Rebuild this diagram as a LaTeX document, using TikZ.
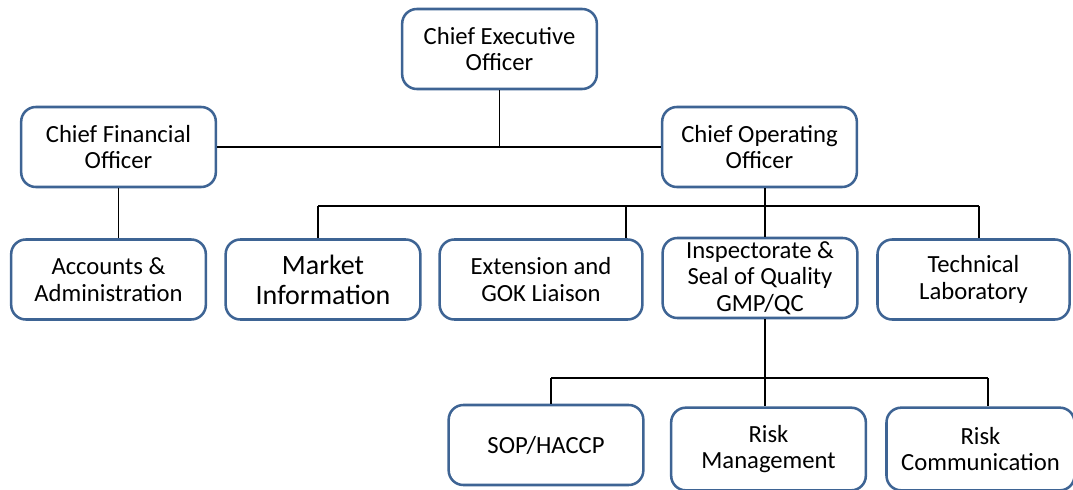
\documentclass[tikz,border=0pt]{standalone}
\usepackage{fontspec}
\setmainfont{Carlito}
\definecolor{boxblue}{RGB}{62,100,148}
\tikzset{
  box/.style={draw=boxblue, line width=1.9pt, rounded corners=11pt, fill=white,
    align=center, minimum width=146pt, minimum height=60pt, inner sep=2pt,
    font=\fontsize{18.5}{20}\selectfont},
  link/.style={black, line width=1pt}
}
\begin{document}
\begin{tikzpicture}[x=0.75pt,y=-0.75pt]
      \useasboundingbox (0,0) rectangle (1073,489);
      % top level
      \node[box] (ceo) at (499.5,49) {Chief Executive\\Officer};
      \node[box] (cfo) at (118.5,147) {Chief Financial\\Officer};
      \node[box] (coo) at (759.5,147) {Chief Operating\\Officer};
      % second row
      \node[box] (acc) at (108.5,279.5) {Accounts \&\\Administration};
      \node[box, font=\fontsize{21}{22.5}\selectfont] (mkt) at (323,279.5) {Market\\Information};
      \node[box, minimum width=152pt] (ext) at (541,279.5) {Extension and\\GOK Liaison};
      \node[box] (insp) at (760,278) {Inspectorate \&\\Seal of Quality\\GMP/QC};
      \node[box, minimum width=144pt] (tech) at (973.5,279.5) {Technical\\Laboratory};
      % third row
      \node[box] (sop) at (546,445) {SOP/HACCP};
      \node[box, minimum height=62pt] (rmgt) at (768.5,449) {Risk\\Management};
      \node[box, minimum height=62pt, minimum width=141pt] (rcom) at (980.5,449) {Risk\\Communication};
      % bus points
      \coordinate (mktdrop) at (318,206);
      \coordinate (extdrop) at (626,206);
      \coordinate (inspdrop) at (765,206);
      \coordinate (techdrop) at (979,206);
      \coordinate (sopdrop) at (551,378);
      \coordinate (rmgtdrop) at (765,378);
      \coordinate (rcomdrop) at (988,378);
      % connectors
      \draw[link] (ceo.south) -- (ceo.south |- cfo.east);
      \draw[link] (cfo.east) -- (coo.west);
      \draw[link] (cfo.south) -- (cfo.south |- acc.north);
      \draw[link] (inspdrop |- coo.south) -- (inspdrop);
      \draw[link] (mktdrop) -- (techdrop);
      \draw[link] (mktdrop) -- (mktdrop |- mkt.north);
      \draw[link] (extdrop) -- (extdrop |- ext.north);
      \draw[link] (inspdrop) -- (inspdrop |- insp.north);
      \draw[link] (techdrop) -- (techdrop |- tech.north);
      \draw[link] (rmgtdrop |- insp.south) -- (rmgtdrop);
      \draw[link] (sopdrop) -- (rcomdrop);
      \draw[link] (sopdrop) -- (sopdrop |- sop.north);
      \draw[link] (rmgtdrop) -- (rmgtdrop |- rmgt.north);
      \draw[link] (rcomdrop) -- (rcomdrop |- rcom.north);
\end{tikzpicture}
\end{document}
